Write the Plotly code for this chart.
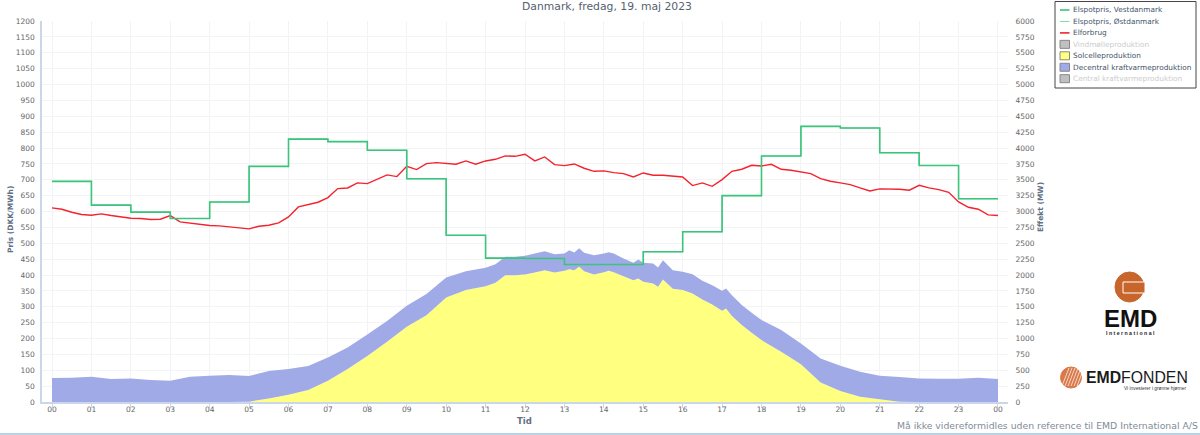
import plotly.graph_objects as go

TITLE = "Danmark, fredag, 19. maj 2023"
FOOT = "Må ikke videreformidles uden reference til EMD International A/S"
HOUR_LABELS = ["00","01","02","03","04","05","06","07","08","09","10","11","12","13","14","15","16","17","18","19","20","21","22","23","00"]
HOURS = list(range(25))
PRICE = [695,620,598,578,630,742,828,820,793,703,525,453,452,433,433,473,536,650,775,868,863,785,745,640,640]

QUARTERS = [i/4 for i in range(97)]
DEMAND = [3057,3036,2989,2952, 2941,2962,2936,2910, 2894,2889,2873,2878, 2936,2836,2815,2800,
          2779,2774,2758,2742, 2726,2768,2784,2821, 2915,3072,3114,3146, 3219,3361,3371,3450,
          3439,3513,3576,3550, 3712,3660,3754,3770, 3754,3744,3796,3744, 3796,3822,3875,3869,
          3901,3796,3859,3738, 3723,3749,3681,3633, 3639,3612,3597,3544, 3607,3571,3571,3555,
          3544,3408,3450,3397, 3502,3633,3665,3728, 3717,3744,3665,3649, 3628,3597,3518,3476,
          3450,3424,3371,3324, 3356,3356,3350,3335, 3413,3371,3345,3303, 3151,3067,3036,2947, 2936]

AREA_HOURS = [0,.5,1,1.5,2,2.5,3,3.5,4,4.5,5,5.5,6,6.5,7,7.5,8,8.5,9,9.5,10,10.5,11,11.25,11.5,11.75,
              12,12.25,12.5,12.75,13,13.125,13.25,13.375,13.5,13.75,14,14.125,14.25,14.5,14.75,14.875,
              15,15.25,15.375,15.5,15.75,16,16.25,16.5,16.75,17,17.1,17.25,17.5,17.75,18,18.25,18.5,
              19,19.5,20,20.5,21,21.5,22,22.5,23,23.5,24]
SOLAR = [0,0,0,0,0,0,0,0,0,0,5,57,115,189,335,519,723,949,1185,1368,1646,1762,1824,1877,1997,1997,
         2008,2039,2076,2039,2066,2092,2076,2129,2060,2008,2045,2066,2045,1982,1919,1945,
         1893,1866,1814,1929,1782,1762,1709,1615,1536,1436,1473,1353,1211,1090,975,881,792,
         593,309,173,84,42,5,0,0,0,0,0]
TOTAL = [377,383,398,362,372,346,335,398,414,425,409,487,519,566,702,860,1064,1274,1515,1699,1961,2060,2113,2171,2286,2286,
         2302,2338,2375,2328,2338,2391,2354,2422,2349,2312,2338,2359,2338,2260,2191,2244,
         2191,2181,2118,2233,2076,2050,2013,1908,1840,1751,1788,1683,1526,1405,1290,1211,1132,
         923,687,572,477,414,393,372,367,367,383,362]
DECENTRAL = [t - s for t, s in zip(TOTAL, SOLAR)]

LEGEND = [("Elspotpris, Vestdanmark","line","#3cc47c"),
          ("Elspotpris, Østdanmark","thin","#7fdcaa"),
          ("Elforbrug","line","#f5222d"),
          ("Vindmølleproduktion","off","#c0c0c0"),
          ("Solcelleproduktion","area","#ffff80"),
          ("Decentral kraftvarmeproduktion","area","#a0aae6"),
          ("Central kraftvarmeproduktion","off","#c0c0c0")]

FONT = "DejaVu Sans"
LEFT, RIGHT, TOP, BOTTOM = 42, 1008, 21, 402
W, H = 1200, 435
def px(x): return (x - LEFT) / (RIGHT - LEFT)
def py(y): return (BOTTOM - y) / (BOTTOM - TOP)

fig = go.Figure()
fig.add_trace(go.Scatter(x=AREA_HOURS, y=SOLAR, name="Solcelleproduktion", stackgroup="p", mode="none",
                         fillcolor="#ffff80", yaxis="y"))
fig.add_trace(go.Scatter(x=AREA_HOURS, y=DECENTRAL, name="Decentral kraftvarmeproduktion", stackgroup="p", mode="none",
                         fillcolor="#a0aae6", yaxis="y"))
fig.add_trace(go.Scatter(x=QUARTERS, y=DEMAND, name="Elforbrug", mode="lines",
                         line=dict(color="#f5222d", width=1.4), yaxis="y"))
fig.add_trace(go.Scatter(x=HOURS, y=PRICE, name="Elspotpris, Østdanmark", mode="lines",
                         line=dict(color="#7fdcaa", width=1, shape="hv"), yaxis="y2"))
fig.add_trace(go.Scatter(x=HOURS, y=PRICE, name="Elspotpris, Vestdanmark", mode="lines",
                         line=dict(color="#3cc47c", width=1.6, shape="hv"), yaxis="y2"))

shapes, ann = [], []
def text(x, y, s, size, color="#666", xanchor="left", family=FONT, angle=0):
    ann.append(dict(text=s, x=px(x), y=py(y), xref="paper", yref="paper", showarrow=False, textangle=angle,
                    xanchor=xanchor, yanchor="middle", font=dict(size=size, color=color, family=family),
                    borderpad=0, borderwidth=0))
def box(kind, x0, y0, x1, y1, fill, line=None, lw=1):
    shapes.append(dict(type=kind, xref="paper", yref="paper", x0=px(x0), x1=px(x1), y0=py(y0), y1=py(y1),
                       fillcolor=fill, line=dict(color=line or fill, width=lw), layer="above"))
def seg(x0, y0, x1, y1, color, width):
    shapes.append(dict(type="line", xref="paper", yref="paper", x0=px(x0), x1=px(x1), y0=py(y0), y1=py(y1),
                       line=dict(color=color, width=width), layer="above"))

# legend
box("rect", 1055, 1.5, 1196, 88, "white", "#444", 1)
for i, (name, kind, col) in enumerate(LEGEND):
    y = 10 + i * 11.45
    if kind in ("line", "thin"):
        seg(1060, y, 1069.5, y, col, 1.6 if kind == "line" else 1)
    else:
        box("rect", 1060, y-4, 1069.5, y+4, col, "#888", 1)
    text(1073, y, name, 7.35, "#cccccc" if kind == "off" else "#44546a")

# EMD International logo
box("circle", 1115, 272, 1144, 302, "#c7652b")
box("rect", 1123, 282, 1145, 293, "#c7652b", "#ffffff", 1)
text(1130.5, 318, "<b>EMD</b>", 24, "#111", "center", "Liberation Sans")
text(1130.5, 333, "<b>I n t e r n a t i o n a l</b>", 5.2, "#222", "center", "Liberation Sans")
# EMD Fonden logo
box("circle", 1060.5, 367, 1081.5, 388, "#d9794a")
for i in range(6):
    seg(1062 + i*3, 386, 1069 + i*3, 368, "#ffffff", 0.7)
text(1085.5, 377.5, "<b>EMD</b>FONDEN", 15.8, "#1a1a1a", "left", "Liberation Sans")
text(1155, 388.5, "Vi investerer i grønne hjørner", 4.8, "#333", "center", "Liberation Sans")

text(1198, 426, FOOT, 9.3, "#7f8c99", "right")
text(607, 6, TITLE, 10.8, "#55606e", "center")
seg(0, 434, W, 434, "#7ba3cc", 1.2)

# axis titles
text(524, 421, "<b>Tid</b>", 8.5, "#5f6f85", "center")
text(10, 220, "<b>Pris (DKK/MWh)</b>", 7.5, "#5f6f85", "center", angle=-90)
text(1040, 207, "<b>Effekt (MW)</b>", 7.5, "#5f6f85", "center", angle=-90)

axcommon = dict(tickfont=dict(family=FONT, size=7.5, color="#666"), automargin=False)
fig.update_layout(
    width=W, height=H, margin=dict(l=LEFT, r=W-RIGHT, t=TOP, b=H-BOTTOM, pad=0),
    paper_bgcolor="white", plot_bgcolor="white", showlegend=False, shapes=shapes, annotations=ann,
    hovermode=False,
    xaxis=dict(range=[-0.254, 24.254], tickvals=HOURS, ticktext=HOUR_LABELS, tickangle=0, showgrid=True, gridcolor="#f1f3f6",
               gridwidth=1, zeroline=False, showline=True, linecolor="#ccd6eb", linewidth=1.5, ticks="outside",
               ticklen=4, tickcolor="#ccd6eb", tickwidth=1, ticklabelstandoff=-5, **axcommon),
    yaxis=dict(range=[0, 6000], tick0=0, dtick=250, side="right", showgrid=True, gridcolor="#f4f4f4", zeroline=False,
               showline=False, ticks="outside", ticklen=5, tickcolor="rgba(0,0,0,0)", **axcommon),
    yaxis2=dict(range=[0, 1200], tick0=0, dtick=50, side="left", overlaying="y", showgrid=False, zeroline=False,
                showline=True, linecolor="#ccd6eb", linewidth=1.5, ticks="outside", ticklen=4, tickcolor="rgba(0,0,0,0)", **axcommon),
)
fig.write_html("out.html", config=dict(displayModeBar=False),
               post_script="document.body.style.margin='0';")
